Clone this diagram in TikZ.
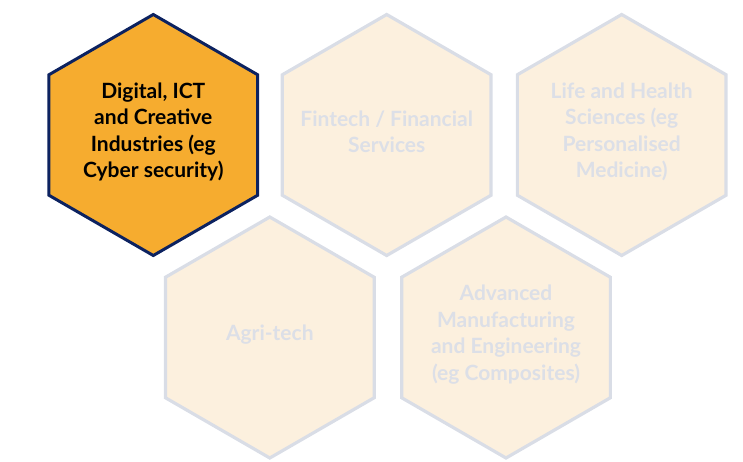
\documentclass[tikz,border=0pt]{standalone}
\usepackage{fontspec}
\setmainfont{Lato}
\usetikzlibrary{shapes.geometric}
\definecolor{sectororange}{HTML}{F6AC2F}
\definecolor{sectornavy}{HTML}{0C2260}
\definecolor{fadedfill}{HTML}{FCF0DE}
\definecolor{fadedline}{HTML}{D9DDE6}
\definecolor{fadedtext}{HTML}{DCDFE7}

\begin{document}
\begin{tikzpicture}[x=1pt,y=1pt]
      \tikzset{hexcell/.style={regular polygon,
          regular polygon sides=6,
          shape border rotate=30,
          minimum size=241pt,
          inner sep=0pt},
        activecell/.style={hexcell, line width=3pt, draw=sectornavy, fill=sectororange},
        fadedcell/.style={hexcell, line width=3.2pt, draw=fadedline, fill=fadedfill},
        celltext/.style={align=center, yshift=3pt,
          font=\bfseries\fontsize{21}{26.5}\selectfont, text=#1}
      }
      \useasboundingbox (0,0) rectangle (743,-461);
      \node [activecell] (digital) at (153.3,-135) {};
      \node [fadedcell] (fintech) at (386.7,-135) {};
      \node [fadedcell] (life) at (621.7,-135) {};
      \node [fadedcell] (agri) at (269.8,-337.5) {};
      \node [fadedcell] (advanced) at (506,-337.5) {};
      \node [celltext=black] (digitaltext) at (digital) {Digital, ICT\\and Creative\\Industries (eg\\Cyber security)};
      \node [celltext=fadedtext] (fintechtext) at (fintech) {Fintech / Financial\\Services};
      \node [celltext=fadedtext] (lifetext) at (life) {Life and Health\\Sciences (eg\\Personalised\\Medicine)};
      \node [celltext=fadedtext] (agritext) at (agri) {Agri-tech};
      \node [celltext=fadedtext] (advancedtext) at (advanced) {Advanced\\Manufacturing\\and Engineering\\(eg Composites)};
    \end{tikzpicture}
\end{document}
